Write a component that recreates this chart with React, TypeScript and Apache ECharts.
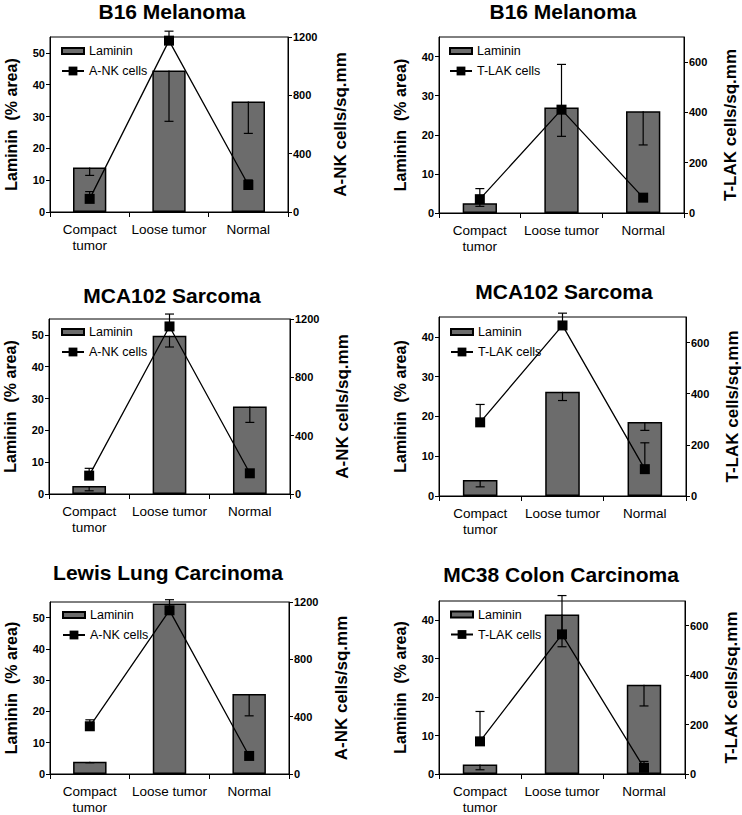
import React, { useEffect, useRef } from 'react';
import * as echarts from 'echarts';

// ---------- data ----------
const categories = ['Compact\ntumor', 'Loose tumor', 'Normal'];
const panelTitles = [
  'B16 Melanoma',
  'B16 Melanoma',
  'MCA102 Sarcoma',
  'MCA102 Sarcoma',
  'Lewis Lung Carcinoma',
  'MC38 Colon Carcinoma',
];
const cellNames = ['A-NK cells', 'T-LAK cells', 'A-NK cells', 'T-LAK cells', 'A-NK cells', 'T-LAK cells'];

const lamininB16ank = [14, 44.5, 34.7];
const lamininErrB16ank = [2.5, 16, 10];
const cellsB16ank = [90, 1175, 185];
const cellsErrB16ank = [50, 65, 35];

const lamininB16lak = [2.5, 27, 26];
const lamininErrB16lak = [0.8, 7.4, 8.6];
const cellsB16lak = [55, 411, 61];
const cellsErrB16lak = [42, 180, 0];

const lamininMCAank = [2.5, 49.7, 27.5];
const lamininErrMCAank = [1.5, 3.5, 5];
const cellsMCAank = [126, 1149, 142];
const cellsErrMCAank = [50, 85, 0];

const lamininMCAlak = [4, 26.2, 18.6];
const lamininErrMCAlak = [1.7, 2.2, 2.1];
const cellsMCAlak = [288, 667, 105];
const cellsErrMCAlak = [70, 48, 103];

const lamininLLCank = [3.9, 54.5, 25.6];
const lamininErrLLCank = [0.3, 2, 7];
const cellsLLCank = [333, 1142, 126];
const cellsErrLLCank = [45, 74, 0];

const lamininMC38lak = [2.5, 41.5, 23.2];
const lamininErrMC38lak = [1.4, 8.4, 5.5];
const cellsMC38lak = [132, 565, 25];
const cellsErrMC38lak = [121, 157, 26];

const leftTicksANK = [0, 10, 20, 30, 40, 50];
const rightTicksANK = [0, 400, 800, 1200];
const leftTicksLAK = [0, 10, 20, 30, 40];
const rightTicksLAK = [0, 200, 400, 600];

const panelData = [
  { lam: lamininB16ank, lamErr: lamininErrB16ank, cells: cellsB16ank, cellsErr: cellsErrB16ank },
  { lam: lamininB16lak, lamErr: lamininErrB16lak, cells: cellsB16lak, cellsErr: cellsErrB16lak },
  { lam: lamininMCAank, lamErr: lamininErrMCAank, cells: cellsMCAank, cellsErr: cellsErrMCAank },
  { lam: lamininMCAlak, lamErr: lamininErrMCAlak, cells: cellsMCAlak, cellsErr: cellsErrMCAlak },
  { lam: lamininLLCank, lamErr: lamininErrLLCank, cells: cellsLLCank, cellsErr: cellsErrLLCank },
  { lam: lamininMC38lak, lamErr: lamininErrMC38lak, cells: cellsMC38lak, cellsErr: cellsErrMC38lak },
];

// ---------- layout ----------
const layout = [
  { grid: { left: 50, top: 37, width: 238, height: 175 }, title: [172, 1], legend: [61, 44.5] },
  { grid: { left: 439, top: 37, width: 245, height: 176 }, title: [563, 1], legend: [449, 44.5] },
  { grid: { left: 49, top: 319, width: 241, height: 175 }, title: [172, 285], legend: [61, 325.5] },
  { grid: { left: 439, top: 317, width: 247, height: 179 }, title: [564, 281], legend: [450, 325.5] },
  { grid: { left: 50, top: 602, width: 239, height: 177 }, title: [168, 562], legend: [62, 608.5] },
  { grid: { left: 439, top: 601, width: 246, height: 178 }, title: [561, 564], legend: [450, 608] },
];

const FONT = '"Liberation Sans", Arial, Helvetica, sans-serif';
const BAR_ICON = 'path://M0,0 L0,0 M0,2.5 L22,2.5 L22,8.5 L0,8.5 Z M22,11 L22,11';

function errRender(params: any, api: any) {
  const x = api.value(0);
  const v = api.value(1);
  const e = api.value(2);
  if (v === e) return null;
  const p0 = api.coord([x, v]);
  const p1 = api.coord([x, e]);
  const half = 4.5;
  return {
    type: 'group',
    children: [
      { type: 'line', shape: { x1: p0[0], y1: p0[1], x2: p1[0], y2: p1[1] }, style: { stroke: '#000', lineWidth: 1.2 } },
      { type: 'line', shape: { x1: p1[0] - half, y1: p1[1], x2: p1[0] + half, y2: p1[1] }, style: { stroke: '#000', lineWidth: 1.2 } },
    ],
  };
}

const plain = (v: number) => String(v);

function buildOption() {
  const grids: any[] = [];
  const xAxes: any[] = [];
  const yAxes: any[] = [];
  const series: any[] = [];
  const titles: any[] = [];
  const legends: any[] = [];

  panelData.forEach((pd, i) => {
    const isANK = i % 2 === 0;
    const lay = layout[i];
    grids.push({ ...lay.grid, show: true, borderColor: '#000', borderWidth: 1, backgroundColor: 'transparent' });
    titles.push({
      text: panelTitles[i],
      left: lay.title[0],
      top: lay.title[1],
      textAlign: 'center',
      padding: 0,
      textStyle: { fontSize: 21, fontWeight: 'bold', fontFamily: FONT, color: '#000' },
    });
    legends.push({
      left: lay.legend[0],
      top: lay.legend[1],
      orient: 'vertical',
      padding: 0,
      itemGap: 7,
      itemWidth: 22,
      itemHeight: 11,
      itemTextGap: 2,
      selectedMode: false,
      textStyle: { fontSize: 12.5, fontFamily: FONT, color: '#000', lineHeight: 11 },
      data: [{ name: 'Laminin', icon: BAR_ICON }, { name: cellNames[i] }],
    });
    xAxes.push({
      type: 'category',
      gridIndex: i,
      data: categories,
      axisLine: { lineStyle: { color: '#000', width: 1 } },
      axisTick: { show: true, length: 5, alignWithLabel: false, lineStyle: { color: '#000', width: 1 } },
      axisLabel: { interval: 0, color: '#000', fontSize: 13.5, fontFamily: FONT, lineHeight: 16, margin: 9 },
      splitLine: { show: false },
    });
    const leftTicks = isANK ? leftTicksANK : leftTicksLAK;
    const rightTicks = isANK ? rightTicksANK : rightTicksLAK;
    yAxes.push({
      type: 'value',
      gridIndex: i,
      position: 'left',
      min: 0,
      max: isANK ? 55 : 45,
      interval: 10,
      name: 'Laminin  (% area)',
      nameLocation: 'middle',
      nameRotate: 90,
      nameGap: 31,
      nameTextStyle: { fontSize: 16, fontWeight: 'bold', fontFamily: FONT, color: '#000' },
      axisLine: { show: true, lineStyle: { color: '#000', width: 1 } },
      axisTick: { show: true, length: 4, customValues: leftTicks, lineStyle: { color: '#000' } },
      axisLabel: { customValues: leftTicks, formatter: plain, fontSize: 11, fontWeight: 'bold', fontFamily: FONT, color: '#000', margin: 5 },
      splitLine: { show: false },
    });
    yAxes.push({
      type: 'value',
      gridIndex: i,
      position: 'right',
      min: 0,
      max: isANK ? 1200 : 700,
      interval: isANK ? 400 : 100,
      name: isANK ? 'A-NK cells/sq.mm' : 'T-LAK cells/sq.mm',
      nameLocation: 'middle',
      nameRotate: 90,
      nameGap: isANK ? 44 : 38,
      nameTextStyle: { fontSize: 17, fontWeight: 'bold', fontFamily: FONT, color: '#000' },
      axisLine: { show: true, lineStyle: { color: '#000', width: 1 } },
      axisTick: { show: true, length: 4, customValues: rightTicks, lineStyle: { color: '#000' } },
      axisLabel: { customValues: rightTicks, formatter: plain, fontSize: 11, fontWeight: 'bold', fontFamily: FONT, color: '#000', margin: 5 },
      splitLine: { show: false },
    });

    series.push({
      type: 'bar',
      name: 'Laminin',
      xAxisIndex: i,
      yAxisIndex: 2 * i,
      data: pd.lam,
      barWidth: '42%',
      itemStyle: { color: '#6c6c6c', borderColor: '#000', borderWidth: 1.5 },
      z: 2,
    });
    series.push({
      type: 'custom',
      xAxisIndex: i,
      yAxisIndex: 2 * i,
      data: pd.lam.map((v, k) => [k, v, v - pd.lamErr[k]]),
      encode: { x: 0, y: [1, 2] },
      renderItem: errRender,
      clip: false,
      silent: true,
      z: 3,
    });
    series.push({
      type: 'custom',
      xAxisIndex: i,
      yAxisIndex: 2 * i + 1,
      data: pd.cells.map((v, k) => [k, v, v + pd.cellsErr[k]]),
      encode: { x: 0, y: [1, 2] },
      renderItem: errRender,
      clip: false,
      silent: true,
      z: 4,
    });
    series.push({
      type: 'line',
      name: cellNames[i],
      xAxisIndex: i,
      yAxisIndex: 2 * i + 1,
      data: pd.cells,
      symbol: 'rect',
      symbolSize: 10,
      itemStyle: { color: '#000' },
      lineStyle: { color: '#000', width: 1.3 },
      z: 5,
    });
  });

  return {
    animation: false,
    backgroundColor: '#fff',
    title: titles,
    legend: legends,
    grid: grids,
    xAxis: xAxes,
    yAxis: yAxes,
    series,
  };
}

export default function App() {
  const ref = useRef<HTMLDivElement>(null);
  useEffect(() => {
    if (!ref.current) return;
    const chart = echarts.init(ref.current, undefined, { renderer: 'svg' });
    chart.setOption(buildOption() as any);
    return () => chart.dispose();
  }, []);
  return <div ref={ref} style={{ position: 'absolute', left: 0, top: 0, width: 742, height: 815 }} />;
}
